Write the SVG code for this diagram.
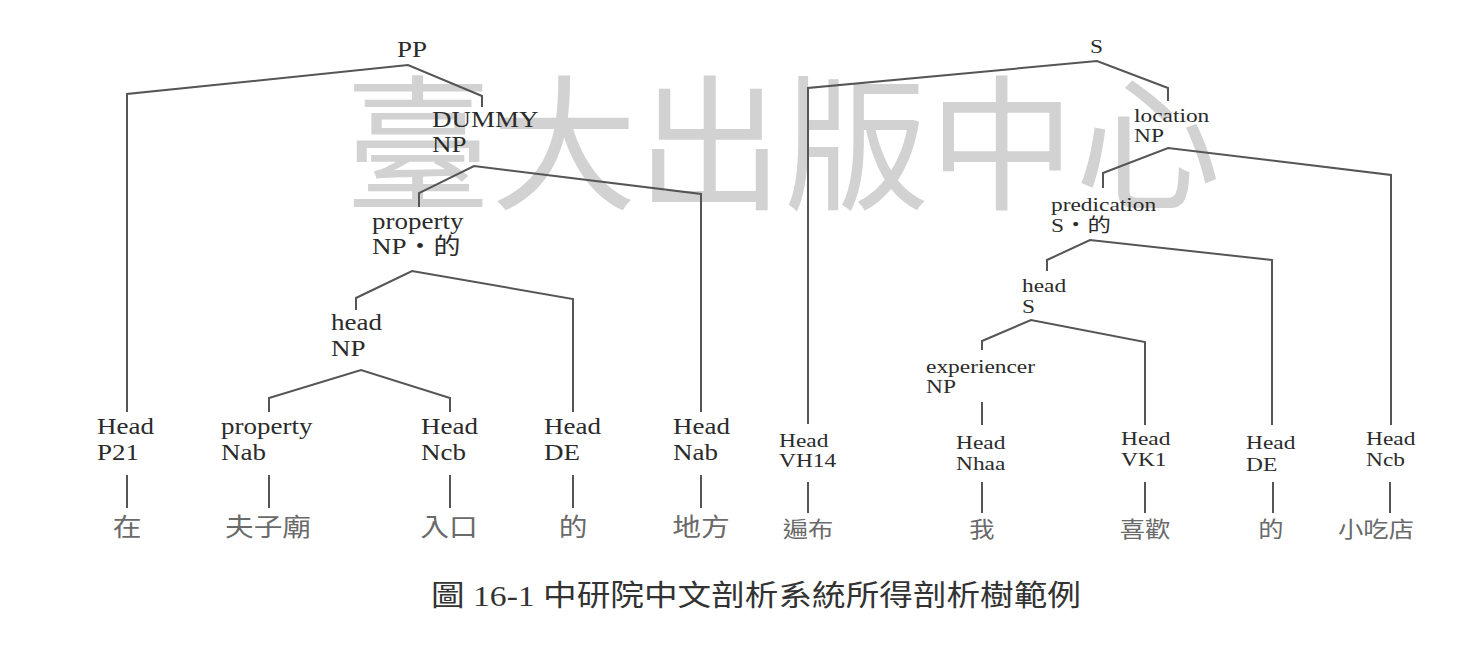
<svg xmlns="http://www.w3.org/2000/svg" width="1474" height="652" viewBox="0 0 1474 652">
<style>
text{font-family:"Liberation Serif","Noto Sans CJK TC",serif;fill:#2b2b2b}
.a{font-size:22.5px}
.b{font-size:19.5px}
.cj{font-family:"Noto Sans CJK TC","Noto Sans CJK SC",sans-serif;fill:#6a6a6a}
.ca{font-size:25px;text-anchor:middle}
.cb{font-size:22px;text-anchor:middle}
.wm{font-family:"Noto Sans CJK TC",sans-serif;font-size:146px;fill:#d2d2d2}
.cap{font-size:29px;fill:#333}
#connectors polyline,#connectors line{stroke:#555;stroke-width:2;fill:none;stroke-linejoin:miter}
</style>
<rect width="1474" height="652" fill="#fff"/>
<text class="wm" x="345" y="198" textLength="876" lengthAdjust="spacingAndGlyphs">臺大出版中心</text>
<g id="connectors">
<polyline points="127,412 127,94 408,65 482,96 482,107"/>
<polyline points="419,207 419,193 474,166 701,194 701,412"/>
<polyline points="356,310 356,298 412,271 573,299 573,412"/>
<polyline points="269,412 269,398 361,370 450,398 450,412"/>
<line x1="127" y1="475" x2="127" y2="508"/>
<line x1="269" y1="475" x2="269" y2="508"/>
<line x1="450" y1="475" x2="450" y2="508"/>
<line x1="573" y1="475" x2="573" y2="508"/>
<line x1="701" y1="475" x2="701" y2="508"/>
<polyline points="808,424 808,88 1097,61 1168,88 1168,101"/>
<polyline points="1103,188 1103,173 1168,148 1391,175 1391,425"/>
<polyline points="1047,271 1047,260 1090,240 1272,260 1272,425"/>
<polyline points="982,350 982,341 1031,320 1145,342 1145,425"/>
<line x1="982" y1="402" x2="982" y2="425"/>
<line x1="808" y1="482" x2="808" y2="513"/>
<line x1="982" y1="482" x2="982" y2="513"/>
<line x1="1145" y1="482" x2="1145" y2="513"/>
<line x1="1273" y1="482" x2="1273" y2="513"/>
<line x1="1390" y1="482" x2="1390" y2="513"/>
</g>
<g id="n-PP"><text class="a" transform="translate(397,57) scale(1.2,1)">PP</text></g>
<g id="n-DUMMY"><text class="a" transform="translate(432,127) scale(1.2,1)">DUMMY<tspan x="0" dy="25">NP</tspan></text></g>
<g id="n-propNP"><text class="a" transform="translate(372,229) scale(1.2,1)">property<tspan x="0" dy="25">NP・的</tspan></text></g>
<g id="n-headNP"><text class="a" transform="translate(331,330) scale(1.2,1)">head<tspan x="0" dy="26">NP</tspan></text></g>
<g id="n-P21"><text class="a" transform="translate(97,434) scale(1.2,1)">Head<tspan x="0" dy="26">P21</tspan></text></g>
<g id="n-Nab1"><text class="a" transform="translate(221,434) scale(1.2,1)">property<tspan x="0" dy="26">Nab</tspan></text></g>
<g id="n-Ncb1"><text class="a" transform="translate(421,434) scale(1.2,1)">Head<tspan x="0" dy="26">Ncb</tspan></text></g>
<g id="n-DE1"><text class="a" transform="translate(544,434) scale(1.2,1)">Head<tspan x="0" dy="26">DE</tspan></text></g>
<g id="n-Nab2"><text class="a" transform="translate(673,434) scale(1.2,1)">Head<tspan x="0" dy="26">Nab</tspan></text></g>
<g id="w-zai"><text class="cj ca" transform="translate(127,536) scale(1.15,1)">在</text></g>
<g id="w-fuzimiao"><text class="cj ca" transform="translate(268,536) scale(1.15,1)">夫子廟</text></g>
<g id="w-rukou"><text class="cj ca" transform="translate(449,536) scale(1.15,1)">入口</text></g>
<g id="w-de1"><text class="cj ca" transform="translate(573,536) scale(1.15,1)">的</text></g>
<g id="w-difang"><text class="cj ca" transform="translate(701,536) scale(1.15,1)">地方</text></g>
<g id="n-S"><text class="b" transform="translate(1090,53) scale(1.2,1)">S</text></g>
<g id="n-locNP"><text class="b" transform="translate(1134,122) scale(1.2,1)">location<tspan x="0" dy="20">NP</tspan></text></g>
<g id="n-predS"><text class="b" transform="translate(1051,211) scale(1.2,1)">predication<tspan x="0" dy="21">S・的</tspan></text></g>
<g id="n-headS"><text class="b" transform="translate(1022,292) scale(1.2,1)">head<tspan x="0" dy="21">S</tspan></text></g>
<g id="n-expNP"><text class="b" transform="translate(926,373) scale(1.2,1)">experiencer<tspan x="0" dy="20">NP</tspan></text></g>
<g id="n-VH14"><text class="b" transform="translate(779,447) scale(1.2,1)">Head<tspan x="0" dy="20">VH14</tspan></text></g>
<g id="n-Nhaa"><text class="b" transform="translate(956,449) scale(1.2,1)">Head<tspan x="0" dy="21">Nhaa</tspan></text></g>
<g id="n-VK1"><text class="b" transform="translate(1121,445) scale(1.2,1)">Head<tspan x="0" dy="21">VK1</tspan></text></g>
<g id="n-DE2"><text class="b" transform="translate(1246,449) scale(1.2,1)">Head<tspan x="0" dy="22">DE</tspan></text></g>
<g id="n-Ncb2"><text class="b" transform="translate(1366,445) scale(1.2,1)">Head<tspan x="0" dy="21">Ncb</tspan></text></g>
<g id="w-bianbu"><text class="cj cb" transform="translate(808,537) scale(1.15,1)">遍布</text></g>
<g id="w-wo"><text class="cj cb" transform="translate(982,537) scale(1.15,1)">我</text></g>
<g id="w-xihuan"><text class="cj cb" transform="translate(1145,537) scale(1.15,1)">喜歡</text></g>
<g id="w-de2"><text class="cj cb" transform="translate(1271,537) scale(1.15,1)">的</text></g>
<g id="w-xiaochidian"><text class="cj cb" transform="translate(1376,537) scale(1.15,1)">小吃店</text></g>
<g id="caption"><text class="cap" x="431" y="606" textLength="650" lengthAdjust="spacingAndGlyphs">圖 16-1 中研院中文剖析系統所得剖析樹範例</text></g>
</svg>
